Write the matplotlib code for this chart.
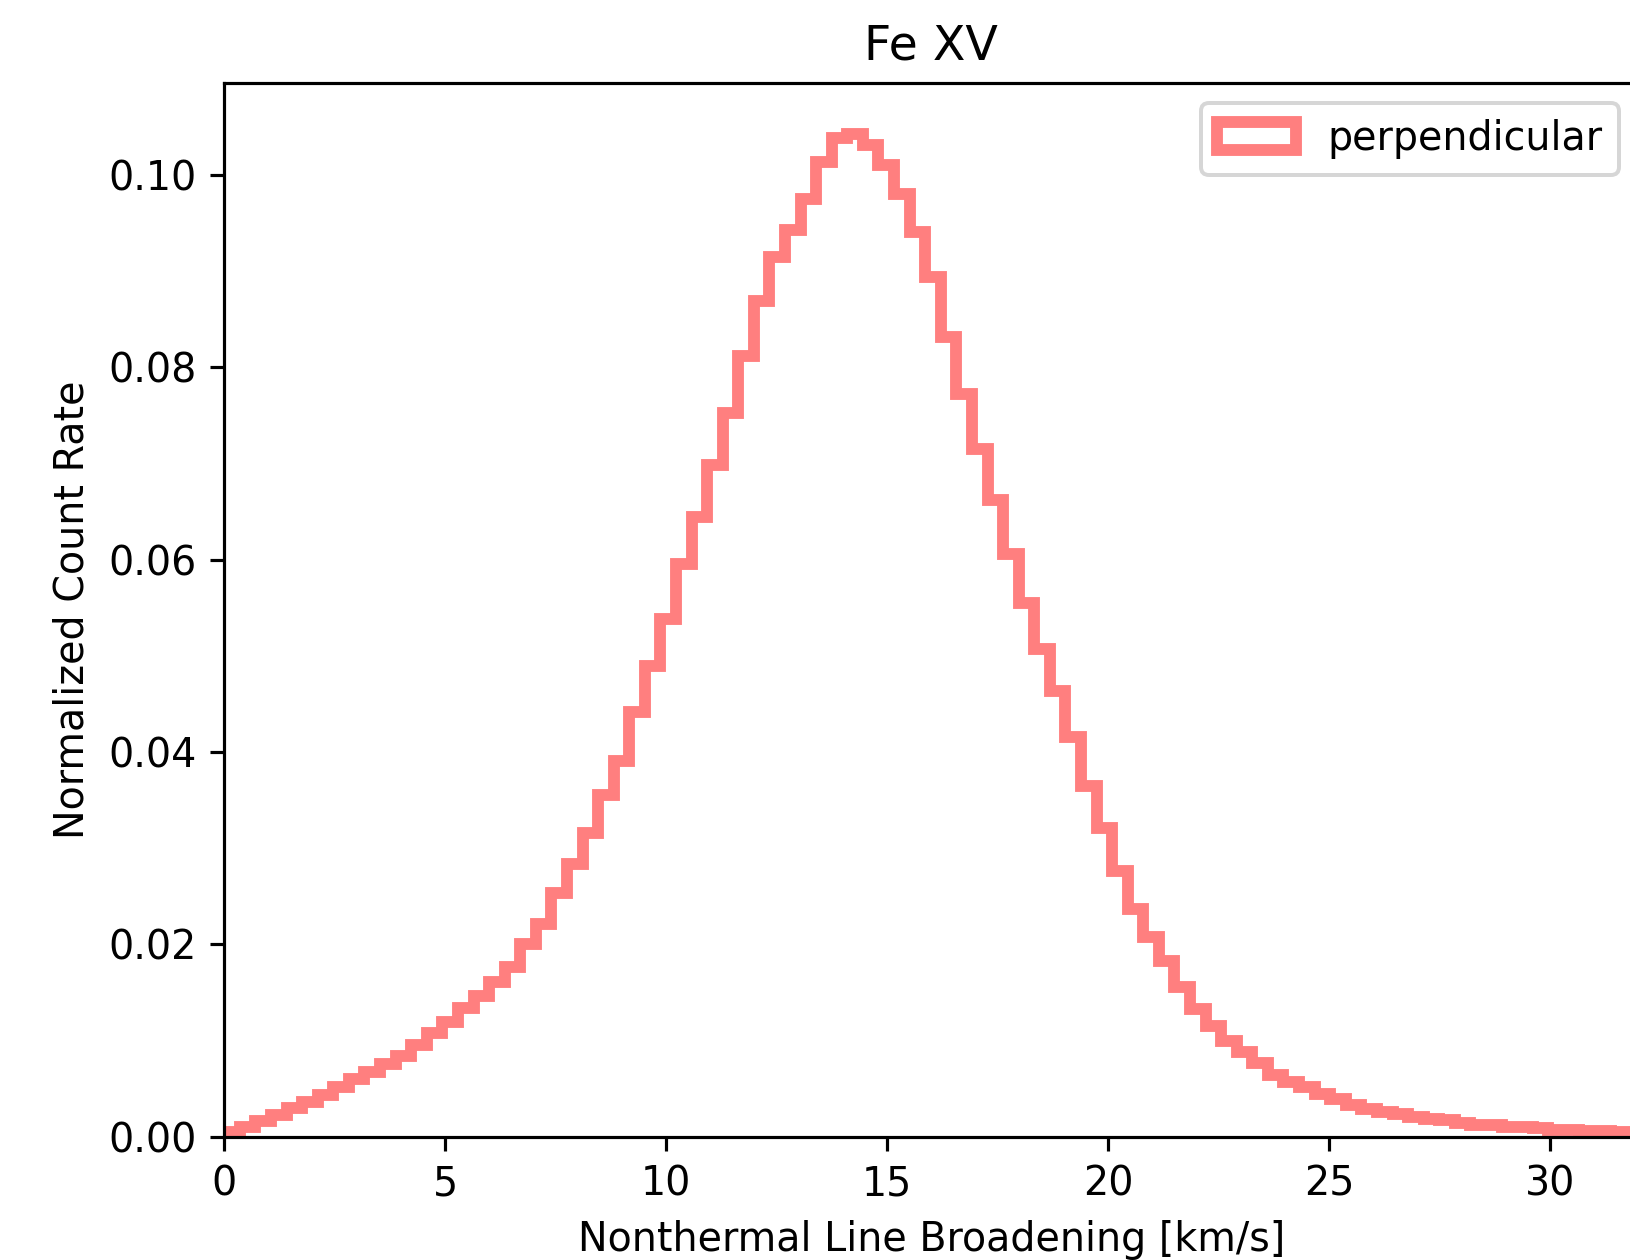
import numpy as np
import matplotlib
matplotlib.use('Agg')
import matplotlib.pyplot as plt

# Histogram: bin width and normalized count rate per bin
bin_width = 0.3525
counts = [
    0.0005, 0.0010, 0.0016, 0.0022, 0.0030, 0.0036, 0.0043, 0.0051, 0.0060, 0.0067,
    0.0075, 0.0084, 0.0095, 0.0108, 0.0119, 0.0134, 0.0146, 0.0161, 0.0176, 0.0200,
    0.0221, 0.0253, 0.0283, 0.0316, 0.0355, 0.0391, 0.0442, 0.0489, 0.0538, 0.0595,
    0.0644, 0.0698, 0.0752, 0.0812, 0.0869, 0.0915, 0.0943, 0.0975, 0.1013, 0.1038,
    0.1043, 0.1031, 0.1010, 0.0980, 0.0941, 0.0894, 0.0832, 0.0772, 0.0715, 0.0662,
    0.0606, 0.0555, 0.0507, 0.0463, 0.0416, 0.0365, 0.0321, 0.0276, 0.0237, 0.0208,
    0.0183, 0.0156, 0.0133, 0.0115, 0.0099, 0.0088, 0.0076, 0.0064, 0.0057, 0.0051,
    0.0044, 0.0039, 0.0033, 0.0029, 0.0025, 0.0023, 0.0020, 0.0018, 0.0017, 0.0014,
    0.0012, 0.0012, 0.0010, 0.0010, 0.0009, 0.0007, 0.0007, 0.0006, 0.0006, 0.0005,
    0.0005, 0.0004,
]
edges = np.arange(len(counts) + 1) * bin_width
centers = 0.5 * (edges[:-1] + edges[1:])

title = 'Fe XV'
xlabel = 'Nonthermal Line Broadening [km/s]'
ylabel = 'Normalized Count Rate'
label = 'perpendicular'

dpi = 285
fig = plt.figure(figsize=(1630 / dpi, 1260 / dpi), dpi=dpi)
# axes runs a little past the right edge, as in the reference crop
ax = fig.add_axes([224.3 / 1630, 123.5 / 1260, 1414 / 1630, 1053 / 1260])

ax.hist(centers, bins=edges, weights=counts, histtype='step',
        color='red', alpha=0.5, lw=3, label=label)
ax.set_xlim(0, 32)
ax.set_title(title)
ax.set_xlabel(xlabel)
ax.set_ylabel(ylabel)
ax.legend(loc='upper right')

fig.savefig('out.png', dpi=dpi)
